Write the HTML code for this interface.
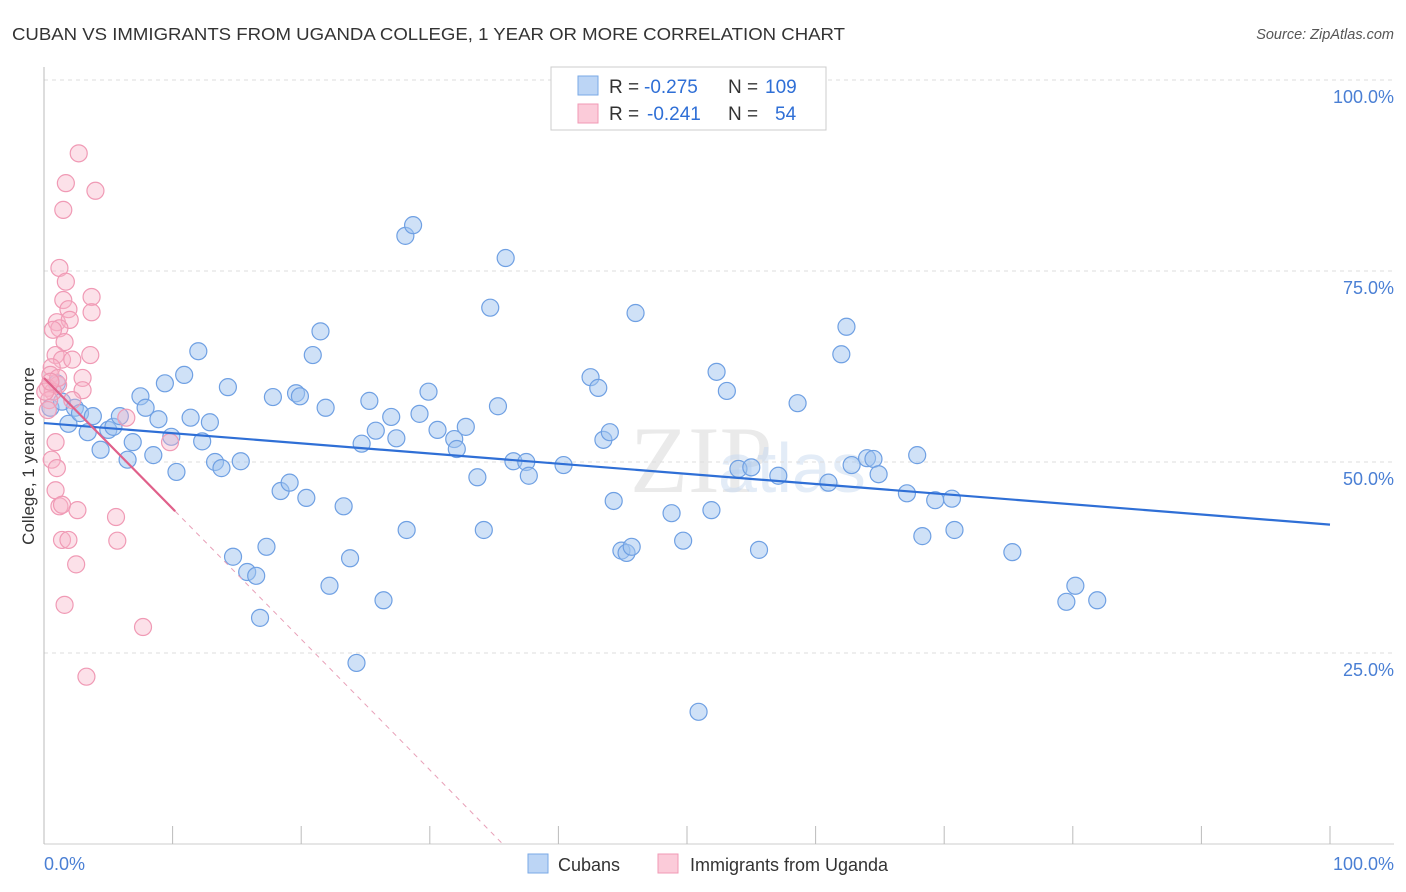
<!DOCTYPE html>
<html><head><meta charset="utf-8"><style>
body{margin:0;background:#fff;font-family:"Liberation Sans",sans-serif;}
svg{display:block}
</style></head><body>
<svg id="c" width="1406" height="892">
<text x="12" y="40" font-size="17.5" fill="#333" textLength="833" lengthAdjust="spacingAndGlyphs">CUBAN VS IMMIGRANTS FROM UGANDA COLLEGE, 1 YEAR OR MORE CORRELATION CHART</text>
<text x="1394" y="39" font-size="14.5" fill="#555" font-style="italic" text-anchor="end">Source: ZipAtlas.com</text>
<text x="630" y="492" font-size="95" fill="#ddd" font-family="Liberation Serif" opacity="0.6">ZIP</text>
<text x="718" y="492" font-size="70" fill="#c8daf0" opacity="0.5">atlas</text>
<g id="grid"></g>
<g id="marks"></g>
<text x="34" y="456" font-size="17" fill="#333" transform="rotate(-90 34 456)" text-anchor="middle">College, 1 year or more</text>
<text x="44" y="870" font-size="18" fill="#4a7fd4">0.0%</text>
<text x="1394" y="870" font-size="18" fill="#4a7fd4" text-anchor="end">100.0%</text>
<g>
<rect x="551" y="67" width="275" height="63" fill="#fff" stroke="#ccc"/>
<rect x="578" y="76" width="20" height="19" fill="#bcd5f5" stroke="#7aa9e6"/>
<rect x="578" y="104" width="20" height="19" fill="#fbcbd9" stroke="#f09ab5"/>
<text x="609" y="93" font-size="19" fill="#333">R =</text>
<text x="644" y="93" font-size="19" fill="#2f6fd6">-0.275</text>
<text x="728" y="93" font-size="19" fill="#333">N =</text>
<text x="765" y="93" font-size="19" fill="#2f6fd6">109</text>
<text x="609" y="120" font-size="19" fill="#333">R =</text>
<text x="647" y="120" font-size="19" fill="#2f6fd6">-0.241</text>
<text x="728" y="120" font-size="19" fill="#333">N =</text>
<text x="775" y="120" font-size="19" fill="#2f6fd6">54</text>
</g>
<g>
<rect x="528" y="854" width="20" height="19" fill="#bcd5f5" stroke="#7aa9e6"/>
<text x="558" y="871" font-size="18" fill="#333">Cubans</text>
<rect x="658" y="854" width="20" height="19" fill="#fbcbd9" stroke="#f09ab5"/>
<text x="690" y="871" font-size="18" fill="#333">Immigrants from Uganda</text>
</g>
</svg>
<script>
const yTicks=[25,50,75,100];
const yTickLabels=["25.0%","50.0%","75.0%","100.0%"];
const xTicks=[0,10,20,30,40,50,60,70,80,90,100];
const cubanX=[0.5,1.0,1.4,1.9,2.4,2.8,3.4,3.8,4.4,5.0,5.4,5.9,6.5,6.9,7.5,7.9,8.5,8.9,9.4,9.9,10.3,10.9,11.4,12.0,12.3,12.9,13.3,13.8,14.3,14.7,15.3,15.8,16.5,16.8,17.3,17.8,18.4,19.1,19.6,19.9,20.4,20.9,21.5,21.9,22.2,23.3,23.8,24.7,25.3,25.8,26.4,24.3,27.0,27.4,28.1,28.2,28.7,29.2,29.9,30.6,31.9,32.1,32.8,33.7,34.2,34.7,35.3,35.9,36.5,37.5,37.7,40.4,42.5,43.1,43.5,44.0,44.3,44.9,45.3,45.7,46.0,48.8,49.7,50.9,51.9,52.3,53.1,54.0,55.0,55.6,57.1,58.6,61.0,62.0,62.4,62.8,64.0,64.5,64.9,67.1,67.9,68.3,69.3,70.6,70.8,75.3,79.5,80.2,81.9];
const cubanY=[57.1,60.3,57.9,55.0,57.1,56.4,53.9,56.0,51.6,54.2,54.6,56.0,50.3,52.6,58.6,57.1,50.9,55.6,60.3,53.3,48.7,61.4,55.8,64.5,52.7,55.2,50.0,49.2,59.8,37.6,50.1,35.6,35.1,29.6,38.9,58.5,46.2,47.3,59.0,58.6,45.3,64.0,67.1,57.1,33.8,44.2,37.4,52.4,58.0,54.1,31.9,23.7,55.9,53.1,79.6,41.1,81.0,56.3,59.2,54.2,53.0,51.7,54.6,48.0,41.1,70.2,57.3,76.7,50.1,50.0,48.2,49.6,61.1,59.7,52.9,53.9,44.9,38.4,38.1,38.9,69.5,43.3,39.7,17.3,43.7,61.8,59.3,49.1,49.3,38.5,48.2,57.7,47.3,64.1,67.7,49.6,50.5,50.4,48.4,45.9,50.9,40.3,45.0,45.2,41.1,38.2,31.7,33.8,31.9];
const ugandaX=[2.7,1.7,4.0,1.5,1.2,1.7,3.7,1.5,3.7,1.9,1.0,2.0,1.2,0.7,1.6,3.6,0.9,1.4,2.2,0.6,0.5,3.0,1.1,0.3,0.7,3.0,0.4,2.2,6.4,9.8,0.9,0.6,1.0,0.9,1.2,1.4,2.6,5.6,1.4,1.9,5.7,2.5,1.6,7.7,3.3,1.1,0.1,0.5,0.3];
const ugandaY=[90.4,86.5,85.5,83.0,75.4,73.6,71.6,71.2,69.6,70.0,68.3,68.6,67.5,67.3,65.7,64.0,64.0,63.4,63.4,62.4,61.4,61.0,60.1,59.7,59.2,59.4,58.1,58.1,55.8,52.6,52.6,50.3,49.2,46.3,44.2,44.4,43.7,42.8,39.8,39.8,39.7,36.6,31.3,28.4,21.9,61.0,59.2,60.5,56.8];
const cubanTrend=[55.1,41.8];
const ugandaTrend=[61.0,-1.71];
const ugandaSolidEnd=10.2;

const X0=44,X1=1330,Y0=844,Y100=80;
const sx=v=>X0+(X1-X0)*v/100;
const sy=v=>Y0-(Y0-Y100)*v/100;
const NS="http://www.w3.org/2000/svg";
function mk(tag,attrs,parent){const e=document.createElementNS(NS,tag);for(const k in attrs)e.setAttribute(k,attrs[k]);parent.appendChild(e);return e;}
const grid=document.getElementById('grid'),marks=document.getElementById('marks');
yTicks.forEach((t,i)=>{
  const l=mk('line',{x1:X0,x2:1394,y1:sy(t),y2:sy(t),stroke:'#ddd','stroke-dasharray':'4,4'},grid);
  
  
  const tx=mk('text',{x:1394,y:sy(t)+23,'font-size':18,fill:'#4a7fd4','text-anchor':'end'},grid);
  tx.textContent=yTickLabels[i];
  
  
});
const ax=mk('line',{x1:X0,x2:X0,y1:67,y2:Y0,stroke:'#bbb'},grid);


const bx=mk('line',{x1:X0,x2:1394,y1:Y0,y2:Y0,stroke:'#ccc'},grid);


xTicks.forEach(t=>{
  const l=mk('line',{x1:sx(t),x2:sx(t),y1:Y0-18,y2:Y0,stroke:'#bbb'},grid);
  
  
});
cubanX.forEach((x,i)=>{
  const c=mk('circle',{cx:sx(x),cy:sy(cubanY[i]),r:8.5,fill:'rgba(160,196,240,0.5)',stroke:'#6fa0e3','stroke-width':1.2},marks);
  
  
});
ugandaX.forEach((x,i)=>{
  const c=mk('circle',{cx:sx(x),cy:sy(ugandaY[i]),r:8.5,fill:'rgba(248,180,200,0.4)',stroke:'#f09ab5','stroke-width':1.2},marks);
  
  
});
const bt=mk('line',{x1:sx(0),y1:sy(cubanTrend[0]),x2:sx(100),y2:sy(cubanTrend[1]),stroke:'#2f6fd6','stroke-width':2.2},marks);


const xz=-ugandaTrend[0]/ugandaTrend[1];
const pd=mk('line',{x1:sx(ugandaSolidEnd),y1:sy(ugandaTrend[0]+ugandaTrend[1]*ugandaSolidEnd),x2:sx(xz),y2:sy(0),stroke:'#e8a0b8','stroke-width':1,'stroke-dasharray':'5,5'},marks);


const pt=mk('line',{x1:sx(0),y1:sy(ugandaTrend[0]),x2:sx(ugandaSolidEnd),y2:sy(ugandaTrend[0]+ugandaTrend[1]*ugandaSolidEnd),stroke:'#e0608a','stroke-width':2.2},marks);


</script>
</body></html>
